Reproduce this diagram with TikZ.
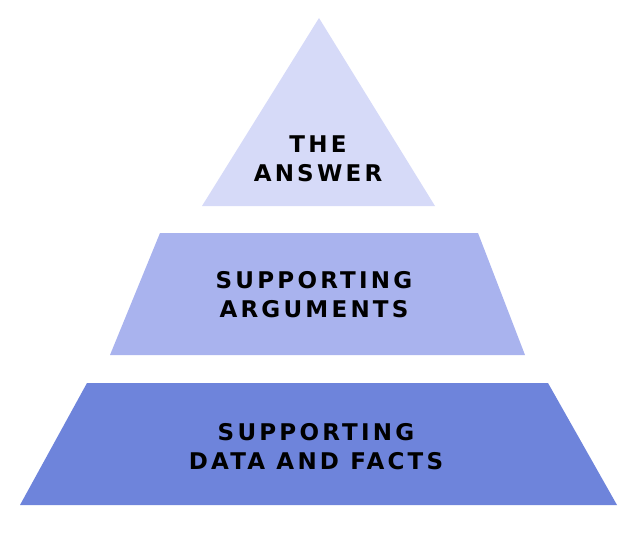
\documentclass[tikz,border=0pt]{standalone}
\usepackage{fontspec}
\setmainfont{DejaVu Sans}
\newfontfamily\lbl[LetterSpace=14]{DejaVu Sans}
\definecolor{ctop}{HTML}{D6DAF8}
\definecolor{cmid}{HTML}{A9B3EE}
\definecolor{cbot}{HTML}{6E84DB}
\begin{document}
\begin{tikzpicture}[x=1pt,y=-1pt]
\tikzset{lab/.style={font=\lbl\bfseries\fontsize{23}{29}\selectfont,align=center,text=black}}
\useasboundingbox (0,0) rectangle (644,540);
\fill[ctop] (319,18) -- (435,206) -- (202,206) -- cycle;
\fill[cmid] (160,233) -- (478,233) -- (525,355) -- (110,355) -- cycle;
\fill[cbot] (87,383) -- (548,383) -- (617,505) -- (20,505) -- cycle;
\node[lab] (t) at (318,159) {THE\\ANSWER};
\node[lab] (m) at (314,295) {SUPPORTING\\ARGUMENTS};
\node[lab] (b) at (316,447) {SUPPORTING\\DATA AND FACTS};
\end{tikzpicture}
\end{document}
